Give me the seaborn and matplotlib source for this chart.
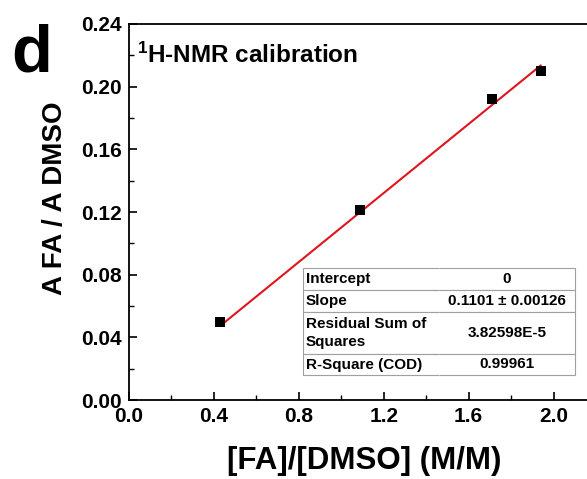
import matplotlib
matplotlib.use("Agg")
import matplotlib.pyplot as plt
import seaborn as sns
import numpy as np
import pandas as pd
from matplotlib.ticker import MultipleLocator

sns.set_theme(style="ticks")
plt.rcParams['font.family'] = ['Liberation Sans', 'DejaVu Sans']
plt.rcParams['font.weight'] = 'bold'
plt.rcParams['text.color'] = 'black'
plt.rcParams['axes.labelcolor'] = 'black'
plt.rcParams['xtick.color'] = 'black'
plt.rcParams['ytick.color'] = 'black'
plt.rcParams['mathtext.fontset'] = 'custom'
plt.rcParams['mathtext.bf'] = 'Liberation Sans:bold'
plt.rcParams['mathtext.rm'] = 'Liberation Sans:bold'
plt.rcParams['mathtext.default'] = 'bf'

# data
ratio_x = [0.43, 1.09, 1.71, 1.94]
area_ratio = [0.050, 0.121, 0.192, 0.210]
slope = 0.1101
fit_x = [0.43, 1.94]
fit_y = [slope * v for v in fit_x]

table_labels = ["Intercept", "Slope", "Residual Sum of\nSquares", "R-Square (COD)"]
table_values = ["0", "0.1101 \u00b1 0.00126", "3.82598E-5", "0.99961"]

x_ticks = [0.0, 0.4, 0.8, 1.2, 1.6, 2.0]
y_ticks = [0.00, 0.04, 0.08, 0.12, 0.16, 0.20, 0.24]

W, H = 587, 479
fig = plt.figure(figsize=(W/100, H/100), dpi=100)
ax_left, ax_right, ax_top, ax_bottom = 129, 596, 24, 400
ax = fig.add_axes([ax_left/W, 1 - ax_bottom/H, (ax_right-ax_left)/W, (ax_bottom-ax_top)/H])

df = pd.DataFrame({"x": ratio_x, "y": area_ratio})
fit_df = pd.DataFrame({"x": fit_x, "y": fit_y})
sns.lineplot(data=fit_df, x="x", y="y", ax=ax, color="#e0141e", linewidth=1.5, zorder=2)
sns.scatterplot(data=df, x="x", y="y", ax=ax, marker="s", s=45, color="black",
                edgecolor="black", linewidth=0, zorder=3)

ax.set_xlim(0.0, 2.2)
ax.set_ylim(0.0, 0.24)
ax.set_xticks(x_ticks)
ax.set_xticklabels([f"{v:.1f}" for v in x_ticks])
ax.set_yticks(y_ticks)
ax.set_yticklabels([f"{v:.2f}" for v in y_ticks])
ax.xaxis.set_minor_locator(MultipleLocator(0.2))
ax.yaxis.set_minor_locator(MultipleLocator(0.02))
ax.tick_params(which="major", direction="in", length=6, width=1.2, labelsize=15, pad=5,
               top=False, right=False)
ax.tick_params(which="minor", direction="in", length=3.5, width=1.0, top=False, right=False)
for lbl in ax.get_xticklabels() + ax.get_yticklabels():
    lbl.set_fontweight("bold")
for s in ax.spines.values():
    s.set_linewidth(1.3)
    s.set_color("black")

ax.set_xlabel("[FA]/[DMSO] (M/M)", fontsize=22.5, fontweight="bold")
ax.set_ylabel("A FA / A DMSO", fontsize=20, fontweight="bold")
axw = ax_right - ax_left
axh = ax_bottom - ax_top
ax.xaxis.set_label_coords((364 - ax_left)/axw, -(461 - ax_bottom)/axh)
ax.xaxis.label.set_va("center")
ax.yaxis.set_label_coords(-(ax_left - 55)/axw, (ax_bottom - 198)/axh)
ax.yaxis.label.set_va("center")

ax.text((137 - ax_left)/axw, (ax_bottom - 63)/axh, r"$^{1}$H-NMR calibration",
        transform=ax.transAxes, fontsize=17.5, fontweight="bold", va="baseline", ha="left")

fig.text(11/W, 1 - 72/H, "d", fontsize=48, fontweight="bold", ha="left", va="baseline")

# fit parameter table
tb_left, tb_right, tb_top = 303, 575, 268
row_h = [22, 22, 42, 21]
tb_bottom = tb_top + sum(row_h)
bbox = [(tb_left-ax_left)/axw, (ax_bottom-tb_bottom)/axh,
        (tb_right-tb_left)/axw, (tb_bottom-tb_top)/axh]
cell_text = [[a, b] for a, b in zip(table_labels, table_values)]
tab = ax.table(cellText=cell_text, bbox=bbox, colWidths=[0.5, 0.5], zorder=4)
tab.auto_set_font_size(False)
tot = sum(row_h)
for (r, c), cell in tab.get_celld().items():
    cell.set_height(row_h[r] / tot * bbox[3])
    cell.set_edgecolor("#a0a0a0")
    cell.set_linewidth(0.8)
    cell.set_facecolor("white")
    cell.visible_edges = "BTL" if c == 0 else "BTR"
    txt = cell.get_text()
    txt.set_fontsize(11)
    txt.set_fontweight("bold")
    txt.set_color("black")
    if c == 0:
        cell._loc = "left"
        txt.set_ha("left")
        cell.PAD = 0.02
    else:
        cell._loc = "center"
        txt.set_ha("center")
    if r == 2:
        txt.set_linespacing(1.3)

fig.savefig("out.png", dpi=100)
